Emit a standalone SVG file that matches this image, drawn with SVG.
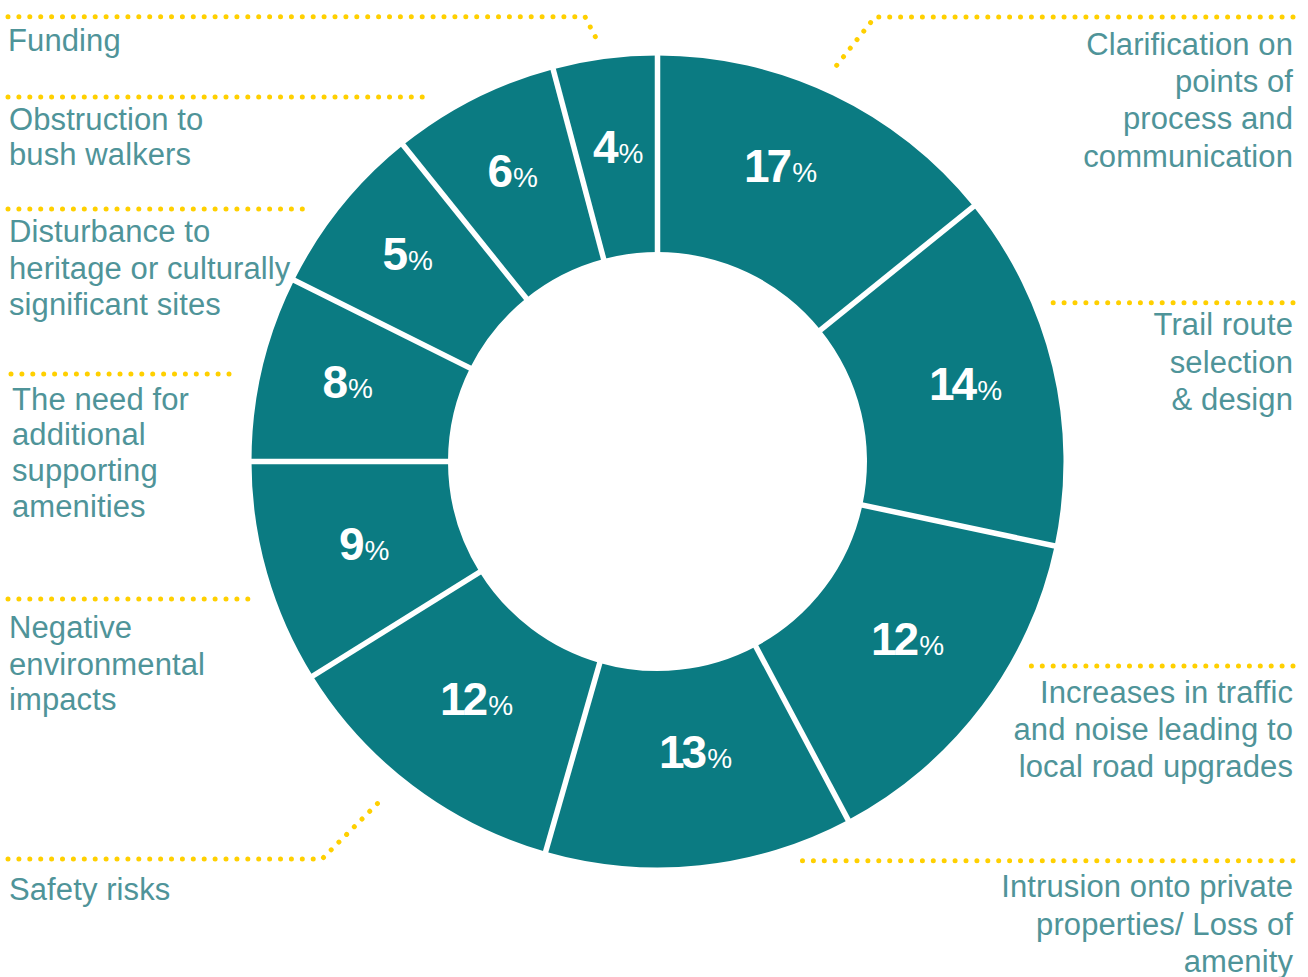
<svg xmlns="http://www.w3.org/2000/svg" width="1308" height="977" viewBox="0 0 1308 977">
<style>
.seg{fill:#0b7b82}
.sep{stroke:#ffffff;stroke-width:5.5;fill:none}
.lead{stroke:#ffd000;stroke-width:5;stroke-dasharray:0.01 10.89;stroke-linecap:round;fill:none}
.lbl{font-family:"Liberation Sans",Arial,sans-serif;font-size:31px;letter-spacing:0.1px;fill:#4f9499}
.r{text-anchor:end}
.pct{font-family:"Liberation Sans",Arial,sans-serif;fill:#ffffff}
.num{font-weight:bold;font-size:46px;letter-spacing:-3px}
.ps{font-size:28px;font-weight:normal}
</style>
<rect width="1308" height="977" fill="#ffffff"/>
<g id="segments">
<g id="seg-17"><path class="seg" d="M657.5,55.5 A406,406 0 0 1 973.45,206.53 L820.53,329.93 A209.5,209.5 0 0 0 657.5,252 Z"/><text class="pct" x="744" y="181.7"><tspan class="num">17</tspan><tspan class="ps" dx="3">%</tspan></text></g>
<g id="seg-14"><path class="seg" d="M973.45,206.53 A406,406 0 0 1 1054.61,545.91 L862.41,505.06 A209.5,209.5 0 0 0 820.53,329.93 Z"/><text class="pct" x="929" y="400"><tspan class="num">14</tspan><tspan class="ps" dx="3">%</tspan></text></g>
<g id="seg-12a"><path class="seg" d="M1054.61,545.91 A406,406 0 0 1 848.12,819.96 L755.86,646.47 A209.5,209.5 0 0 0 862.41,505.06 Z"/><text class="pct" x="871" y="655"><tspan class="num">12</tspan><tspan class="ps" dx="3">%</tspan></text></g>
<g id="seg-13"><path class="seg" d="M848.12,819.96 A406,406 0 0 1 545.61,851.79 L599.76,662.89 A209.5,209.5 0 0 0 755.86,646.47 Z"/><text class="pct" x="659" y="768.3"><tspan class="num">13</tspan><tspan class="ps" dx="3">%</tspan></text></g>
<g id="seg-12b"><path class="seg" d="M545.61,851.79 A406,406 0 0 1 312.81,676.03 L479.63,572.2 A209.5,209.5 0 0 0 599.76,662.89 Z"/><text class="pct" x="440" y="715"><tspan class="num">12</tspan><tspan class="ps" dx="3">%</tspan></text></g>
<g id="seg-9"><path class="seg" d="M312.81,676.03 A406,406 0 0 1 251.5,461.5 L448,461.5 A209.5,209.5 0 0 0 479.63,572.2 Z"/><text class="pct" x="339" y="560"><tspan class="num">9</tspan><tspan class="ps" dx="3">%</tspan></text></g>
<g id="seg-8"><path class="seg" d="M251.5,461.5 A406,406 0 0 1 294.17,280.34 L470.02,368.02 A209.5,209.5 0 0 0 448,461.5 Z"/><text class="pct" x="322.5" y="398.3"><tspan class="num">8</tspan><tspan class="ps" dx="3">%</tspan></text></g>
<g id="seg-5"><path class="seg" d="M294.17,280.34 A406,406 0 0 1 403.1,145.1 L526.23,298.24 A209.5,209.5 0 0 0 470.02,368.02 Z"/><text class="pct" x="382.5" y="270"><tspan class="num">5</tspan><tspan class="ps" dx="3">%</tspan></text></g>
<g id="seg-6"><path class="seg" d="M403.1,145.1 A406,406 0 0 1 553.12,69.14 L603.64,259.04 A209.5,209.5 0 0 0 526.23,298.24 Z"/><text class="pct" x="487.5" y="186.7"><tspan class="num">6</tspan><tspan class="ps" dx="3">%</tspan></text></g>
<g id="seg-4"><path class="seg" d="M553.12,69.14 A406,406 0 0 1 657.5,55.5 L657.5,252 A209.5,209.5 0 0 0 603.64,259.04 Z"/><text class="pct" x="593" y="162.5"><tspan class="num">4</tspan><tspan class="ps" dx="3">%</tspan></text></g>
</g>
<g id="separators">
<line class="sep" x1="657.5" y1="461.5" x2="657.5" y2="46.5"/>
<line class="sep" x1="657.5" y1="461.5" x2="980.45" y2="200.88"/>
<line class="sep" x1="657.5" y1="461.5" x2="1063.41" y2="547.78"/>
<line class="sep" x1="657.5" y1="461.5" x2="852.34" y2="827.9"/>
<line class="sep" x1="657.5" y1="461.5" x2="543.13" y2="860.44"/>
<line class="sep" x1="657.5" y1="461.5" x2="305.16" y2="680.79"/>
<line class="sep" x1="657.5" y1="461.5" x2="242.5" y2="461.5"/>
<line class="sep" x1="657.5" y1="461.5" x2="286.12" y2="276.33"/>
<line class="sep" x1="657.5" y1="461.5" x2="397.46" y2="138.09"/>
<line class="sep" x1="657.5" y1="461.5" x2="550.8" y2="60.44"/>
<circle cx="657.5" cy="461.5" r="207" fill="#ffffff"/>
</g>
<g id="connectors">
<path class="lead" d="M8,16.7 L585,16.7 L598,42"/>
<path class="lead" d="M8,97 L432,97"/>
<path class="lead" d="M8,209 L303,209"/>
<path class="lead" d="M11,374 L235,374"/>
<path class="lead" d="M8,599 L250,599"/>
<path class="lead" d="M8,859 L322,859 L383,798"/>
<path class="lead" d="M1293,17 L875,17 L833,70"/>
<path class="lead" d="M1293,302.7 L1047,302.7"/>
<path class="lead" d="M1293,666 L1031,666"/>
<path class="lead" d="M1293,860.7 L802,860.7"/>
</g>
<g id="labels">
<g id="lbl-funding"><text class="lbl" x="8" y="51">Funding</text></g>
<g id="lbl-obstruction"><text class="lbl" x="9" y="130">Obstruction to</text><text class="lbl" x="9" y="165">bush walkers</text></g>
<g id="lbl-disturbance"><text class="lbl" x="9" y="242">Disturbance to</text><text class="lbl" x="9" y="278.5">heritage or culturally</text><text class="lbl" x="9" y="315">significant sites</text></g>
<g id="lbl-need"><text class="lbl" x="12" y="410">The need for</text><text class="lbl" x="12" y="444.5">additional</text><text class="lbl" x="12" y="480.5">supporting</text><text class="lbl" x="12" y="516.5">amenities</text></g>
<g id="lbl-negative"><text class="lbl" x="9" y="638">Negative</text><text class="lbl" x="9" y="674.5">environmental</text><text class="lbl" x="9" y="709.5">impacts</text></g>
<g id="lbl-safety"><text class="lbl" x="9" y="900">Safety risks</text></g>
<g id="lbl-clarification"><text class="lbl r" x="1293" y="55">Clarification on</text><text class="lbl r" x="1293" y="92">points of</text><text class="lbl r" x="1293" y="129">process and</text><text class="lbl r" x="1293" y="166.5">communication</text></g>
<g id="lbl-trail"><text class="lbl r" x="1293" y="335">Trail route</text><text class="lbl r" x="1293" y="373">selection</text><text class="lbl r" x="1293" y="410">&amp; design</text></g>
<g id="lbl-traffic"><text class="lbl r" x="1293" y="702.5">Increases in traffic</text><text class="lbl r" x="1293" y="740">and noise leading to</text><text class="lbl r" x="1293" y="776.5">local road upgrades</text></g>
<g id="lbl-intrusion"><text class="lbl r" x="1293" y="896.5">Intrusion onto private</text><text class="lbl r" x="1293" y="935">properties/ Loss of</text><text class="lbl r" x="1293" y="971.5">amenity</text></g>
</g>
</svg>
